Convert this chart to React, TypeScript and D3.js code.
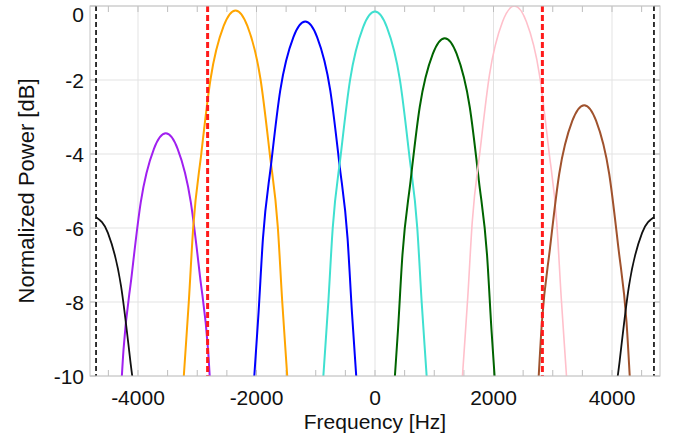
import React from "react";
import * as d3 from "d3";

// channel centres [Hz], peak levels [dB] and colours
const centers = [-3531, -2354, -1177, 0, 1177, 2354, 3531];
const peaks = [-3.44, -0.12, -0.42, -0.15, -0.87, 0, -2.68];
const colors = ["#a020f0", "#ffa500", "#0000ff", "#40e0d0", "#006400", "#ffc0cb", "#a0522d"];

// aliased half-channels at the band edges
const edgeCenters = [-4708, 4708];
const edgePeak = -5.71;

// measured shape of one lobe: offset from centre [Hz] vs drop below peak [dB]
const profileOffset = [0, 200, 422, 577, 714, 788, 872, 900];
const profileDrop = [0, 0.42, 1.86, 3.86, 5.86, 7.86, 9.86, 10.55];

const redMarkers = [-2825, 2825];
const blackMarkers = [-4708, 4708];

const xTicks = [-4000, -2000, 0, 2000, 4000];
const xMinorTicks = d3.range(-4500, 4501, 500);
const yTicks = [0, -2, -4, -6, -8, -10];

const W = 673;
const H = 439;
const left = 90;
const right = 660;
const top = 6;
const bottom = 376;
const font = "'Liberation Sans', Arial, Helvetica, sans-serif";

export default function App() {
  const x = d3.scaleLinear().domain([-4810, 4810]).range([left, right]);
  const y = d3.scaleLinear().domain([-10, 0]).range([bottom, top]);

  const line = d3
    .line<[number, number]>()
    .x((d) => x(d[0]))
    .y((d) => y(d[1]))
    .curve(d3.curveMonotoneX);

  const lobe = (c: number, p: number, side: "both" | "right" | "left") => {
    const pts: [number, number][] = [];
    if (side !== "right") {
      for (let i = profileOffset.length - 1; i > 0; i--)
        pts.push([c - profileOffset[i], p - profileDrop[i]]);
    }
    pts.push([c, p]);
    if (side !== "left") {
      for (let i = 1; i < profileOffset.length; i++)
        pts.push([c + profileOffset[i], p - profileDrop[i]]);
    }
    return line(pts) || "";
  };

  return (
    <svg
      width={W}
      height={H}
      style={{ position: "absolute", left: 0, top: 0, background: "#fff" }}
      fontFamily={font}
    >
      <defs>
        <clipPath id="plot">
          <rect x={left} y={top} width={right - left} height={bottom - top} />
        </clipPath>
      </defs>

      {/* grid */}
      <g stroke="#e3e3e3" strokeWidth={1}>
        {xTicks.map((t) => (
          <line key={t} x1={x(t)} x2={x(t)} y1={top} y2={bottom} />
        ))}
        {yTicks.map((t) => (
          <line key={t} x1={left} x2={right} y1={y(t)} y2={y(t)} />
        ))}
      </g>

      {/* ticks, inward on top and bottom */}
      <g stroke="#bdbdbd" strokeWidth={1}>
        {xMinorTicks.map((t) => (
          <g key={t}>
            <line x1={x(t)} x2={x(t)} y1={top} y2={top + 6} />
            <line x1={x(t)} x2={x(t)} y1={bottom} y2={bottom - 6} />
          </g>
        ))}
        {yTicks.map((t) => (
          <g key={t}>
            <line x1={left} x2={left + 6} y1={y(t)} y2={y(t)} />
            <line x1={right} x2={right - 6} y1={y(t)} y2={y(t)} />
          </g>
        ))}
      </g>

      <g clipPath="url(#plot)" fill="none">
        {centers.map((c, i) => (
          <path
            key={c}
            d={lobe(c, peaks[i], "both")}
            stroke={colors[i]}
            strokeWidth={i === 5 ? 1.6 : 2}
          />
        ))}
        <path d={lobe(edgeCenters[0], edgePeak, "right")} stroke="#111" strokeWidth={1.8} />
        <path d={lobe(edgeCenters[1], edgePeak, "left")} stroke="#111" strokeWidth={1.8} />

        {blackMarkers.map((m) => (
          <line
            key={m}
            x1={x(m)}
            x2={x(m)}
            y1={top}
            y2={bottom}
            stroke="#111"
            strokeWidth={1.7}
            strokeDasharray="5,3"
          />
        ))}
        {redMarkers.map((m) => (
          <line
            key={m}
            x1={x(m)}
            x2={x(m)}
            y1={top}
            y2={bottom}
            stroke="#ff1a1a"
            strokeWidth={3}
            strokeDasharray="6,3"
          />
        ))}
      </g>

      {/* box */}
      <rect
        x={left}
        y={top}
        width={right - left}
        height={bottom - top}
        fill="none"
        stroke="#c4c4c4"
        strokeWidth={1}
      />

      {/* tick labels */}
      <g fontSize={21} fill="#111">
        {xTicks.map((t) => (
          <text key={t} x={x(t)} y={405} textAnchor="middle">
            {t}
          </text>
        ))}
        {yTicks.map((t) => (
          <text
            key={t}
            x={84}
            y={Math.max(y(t), 14)}
            textAnchor="end"
            dominantBaseline="central"
          >
            {t}
          </text>
        ))}
      </g>

      <text x={375} y={429} textAnchor="middle" fontSize={21} fill="#111">
        Frequency [Hz]
      </text>
      <text
        transform={`translate(34, ${(top + bottom) / 2}) rotate(-90)`}
        textAnchor="middle"
        fontSize={22}
        fill="#111"
      >
        Normalized Power [dB]
      </text>
    </svg>
  );
}
